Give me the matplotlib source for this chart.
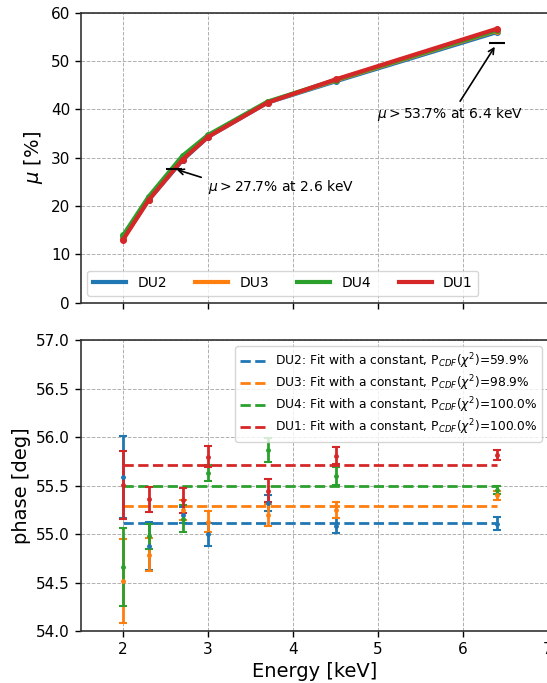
import numpy as np
import matplotlib
matplotlib.use("Agg")
import matplotlib.pyplot as plt

# =======================
# DATA
# =======================
energy = [2.0, 2.3, 2.7, 3.0, 3.7, 4.5, 6.4]
units = ["DU2", "DU3", "DU4", "DU1"]
colors = ["tab:blue", "tab:orange", "tab:green", "tab:red"]

# modulation factor [%]
mu_du2 = [13.3, 21.2, 29.5, 34.3, 41.4, 45.8, 56.0]
mu_du3 = [13.2, 21.3, 29.8, 34.4, 41.5, 46.0, 56.3]
mu_du4 = [13.9, 21.9, 30.4, 34.7, 41.6, 46.1, 56.4]
mu_du1 = [13.0, 21.2, 29.6, 34.3, 41.4, 46.2, 56.7]

# phase [deg] and errors
phase_du2 = [55.59, 54.88, 55.20, 55.00, 55.32, 55.09, 55.11]
err_du2 = [0.42, 0.25, 0.08, 0.12, 0.08, 0.08, 0.07]
phase_du3 = [54.52, 54.79, 55.25, 55.13, 55.20, 55.25, 55.40]
err_du3 = [0.43, 0.17, 0.10, 0.11, 0.11, 0.08, 0.05]
phase_du4 = [54.66, 54.98, 55.16, 55.63, 55.87, 55.60, 55.46]
err_du4 = [0.40, 0.13, 0.14, 0.08, 0.12, 0.09, 0.04]
phase_du1 = [55.51, 55.36, 55.35, 55.80, 55.45, 55.81, 55.82]
err_du1 = [0.35, 0.13, 0.13, 0.11, 0.12, 0.09, 0.05]

fit_const = [55.12, 55.29, 55.50, 55.71]
p_cdf = [59.9, 98.9, 100.0, 100.0]

# spec lower limits
spec_energy = [2.6, 6.4]
spec_mu = [27.7, 53.7]

mu_all = [mu_du2, mu_du3, mu_du4, mu_du1]
phase_all = [phase_du2, phase_du3, phase_du4, phase_du1]
err_all = [err_du2, err_du3, err_du4, err_du1]

# =======================
# FIGURE
# =======================
fig = plt.figure(figsize=(5.47, 6.83), dpi=100)
# axes run slightly past the right edge, like the cropped original
ax1 = fig.add_axes([0.1472, 0.5570, 0.8547, 0.4243])
ax2 = fig.add_axes([0.1472, 0.0757, 0.8547, 0.4261])

for ax in (ax1, ax2):
    ax.grid(True, ls="--", lw=0.7, color="#b0b0b0")
    ax.set_axisbelow(True)
    for s in ax.spines.values():
        s.set_linewidth(1.2)
        s.set_color("#333333")
    ax.tick_params(labelsize=11, width=1.0, length=4)
    ax.set_xlim(1.5, 7.0)
    ax.set_xticks([2, 3, 4, 5, 6, 7])

# ---- top panel: modulation factor
for name, c, mu in zip(units, colors, mu_all):
    ax1.plot(energy, mu, color=c, lw=3, label=name)
    ax1.plot(energy, mu, ls="none", marker="o", ms=4, color=c)
ax1.plot(spec_energy, spec_mu, ls="none", marker="_", ms=12, mew=1.5, color="k")
ax1.annotate(r"$\mu>$27.7% at 2.6 keV", xy=(spec_energy[0], spec_mu[0]),
             xytext=(3.0, 24.0), va="center", ha="left", fontsize=10,
             arrowprops=dict(arrowstyle="->", color="k", lw=1.2,
                             relpos=(0.0, 0.9), shrinkA=3, shrinkB=2))
ax1.annotate(r"$\mu>$53.7% at 6.4 keV", xy=(spec_energy[1], spec_mu[1]),
             xytext=(4.99, 39.0), va="center", ha="left", fontsize=10,
             arrowprops=dict(arrowstyle="->", color="k", lw=1.2,
                             relpos=(0.55, 1.0), shrinkA=1, shrinkB=3))
ax1.set_ylim(0, 60)
ax1.set_yticks(np.arange(0, 61, 10))
ax1.set_xticklabels([])
ax1.set_ylabel(r"$\mu$ [%]", fontsize=14)
ax1.legend(loc="lower left", ncol=4, fontsize=10, handlelength=2.4)

# ---- bottom panel: phase
for name, c, ph, er, k, p in zip(units, colors, phase_all, err_all, fit_const, p_cdf):
    ax2.errorbar(energy, ph, yerr=er, fmt=".", color=c, ms=5,
                 elinewidth=2, capsize=3, capthick=1.5)
    ax2.plot([energy[0], energy[-1]], [k, k], ls="--", lw=2, color=c,
             label=name + r": Fit with a constant, P$_{CDF}$($\chi^2$)=" + f"{p:.1f}%")
ax2.set_ylim(54.0, 57.0)
ax2.set_yticks(np.arange(54.0, 57.01, 0.5))
ax2.yaxis.set_major_formatter(matplotlib.ticker.FormatStrFormatter("%.1f"))
ax2.set_xlabel("Energy [keV]", fontsize=14)
ax2.set_ylabel("phase [deg]", fontsize=14)
ax2.legend(loc="upper right", fontsize=8.8, labelspacing=0.2)

fig.savefig("out.png", dpi=100)
